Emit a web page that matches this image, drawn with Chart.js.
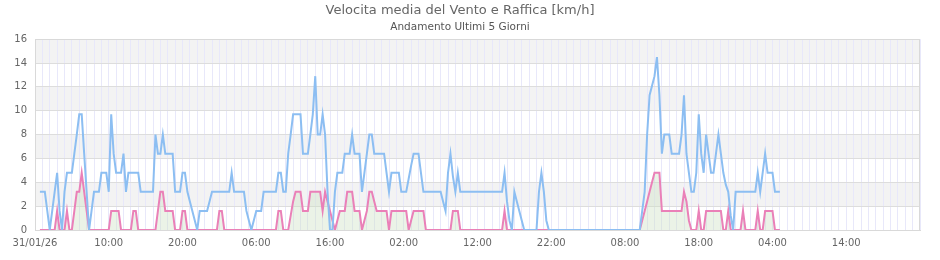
<!DOCTYPE html>
<html>
<head>
<meta charset="utf-8">
<script src="https://cdn.jsdelivr.net/npm/chart.js@4.4.1/dist/chart.umd.min.js"></script>
<style>
  html, body { margin: 0; padding: 0; background: #ffffff; }
  #wrap { width: 940px; height: 260px; }
</style>
</head>
<body>
<div id="wrap"><canvas id="c" width="940" height="260"></canvas></div>
<script>
// ---- DATA (20-minute samples starting 31/01/26 00:00) ----
const SLOTS = 361; // 0..120 h, one category every 20 minutes
const categories = [];
for (let i = 0; i < SLOTS; i++) {
  const m = i * 20, h = Math.floor(m / 60) % 24, mm = m % 60;
  categories.push(String(h).padStart(2, '0') + ':' + String(mm).padStart(2, '0'));
}

// tick labels shown every 10 hours
const tickLabels = ['31/01/26', '10:00', '20:00', '06:00', '16:00', '02:00',
                    '12:00', '22:00', '08:00', '18:00', '04:00', '14:00'];

// Raffica (gust) km/h
const raffica = [
  null, null, 3.2, 3.2, 3.2, 1.6, 0, 1.6, 3.2, 4.8,
  1.6, 0, 3.2, 4.8, 4.8, 4.8, 6.4, 8.0, 9.7, 9.7,
  6.4, 3.2, 0, 1.6, 3.2, 3.2, 3.2, 4.8, 4.8, 4.8,
  3.2, 9.7, 6.4, 4.8, 4.8, 4.8, 6.4, 3.2, 4.8, 4.8,
  4.8, 4.8, 4.8, 3.2, 3.2, 3.2, 3.2, 3.2, 3.2, 8.0,
  6.4, 6.4, 8.0, 6.4, 6.4, 6.4, 6.4, 3.2, 3.2, 3.2,
  4.8, 4.8, 3.2, 2.4, 1.6, 0.8, 0, 1.6, 1.6, 1.6,
  1.6, 2.4, 3.2, 3.2, 3.2, 3.2, 3.2, 3.2, 3.2, 3.2,
  4.8, 3.2, 3.2, 3.2, 3.2, 3.2, 1.6, 0.8, 0, 0.8,
  1.6, 1.6, 1.6, 3.2, 3.2, 3.2, 3.2, 3.2, 3.2, 4.8,
  4.8, 3.2, 3.2, 6.4, 8.0, 9.7, 9.7, 9.7, 9.7, 6.4,
  6.4, 6.4, 8.0, 9.7, 12.9, 8.0, 8.0, 9.7, 8.0, 3.2,
  0, 0, 3.2, 4.8, 4.8, 4.8, 6.4, 6.4, 6.4, 8.0,
  6.4, 6.4, 6.4, 3.2, 4.8, 6.4, 8.0, 8.0, 6.4, 6.4,
  6.4, 6.4, 6.4, 4.8, 3.2, 4.8, 4.8, 4.8, 4.8, 3.2,
  3.2, 3.2, 4.3, 5.4, 6.4, 6.4, 6.4, 4.8, 3.2, 3.2,
  3.2, 3.2, 3.2, 3.2, 3.2, 3.2, 2.4, 1.6, 4.8, 6.4,
  4.5, 3.2, 4.8, 3.2, 3.2, 3.2, 3.2, 3.2, 3.2, 3.2,
  3.2, 3.2, 3.2, 3.2, 3.2, 3.2, 3.2, 3.2, 3.2, 3.2,
  3.2, 4.8, 2.4, 0.8, 0, 3.2, 2.4, 1.6, 0.8, 0,
  0, 0, 0, 0, 0, 3.2, 4.8, 3.2, 0.8, 0,
  0, 0, 0, 0, 0, 0, 0, 0, 0, 0,
  0, 0, 0, 0, 0, 0, 0, 0, 0, 0,
  0, 0, 0, 0, 0, 0, 0, 0, 0, 0,
  0, 0, 0, 0, 0, 0, 0, 1.6, 3.2, 8.0,
  11.3, 12.1, 12.9, 14.5, 11.3, 6.4, 8.0, 8.0, 8.0, 6.4,
  6.4, 6.4, 6.4, 8.0, 11.3, 6.4, 4.8, 3.2, 3.2, 4.8,
  9.7, 6.4, 4.8, 8.0, 6.4, 4.8, 4.8, 6.4, 8.0, 6.4,
  4.8, 3.8, 3.2, 1.2, 0, 3.2, 3.2, 3.2, 3.2, 3.2,
  3.2, 3.2, 3.2, 3.2, 4.8, 3.2, 4.8, 6.4, 4.8, 4.8,
  4.8, 3.2, 3.2, 3.2
];

// Velocita media (average) km/h
const media = [
  null, null, 0, 0, 0, 0, 0, 0, 0, 1.6,
  0, 0, 0, 1.6, 0, 0, 1.6, 3.2, 3.2, 4.8,
  3.2, 1.6, 0, 0, 0, 0, 0, 0, 0, 0,
  0, 1.6, 1.6, 1.6, 1.6, 0, 0, 0, 0, 0,
  1.6, 1.6, 0, 0, 0, 0, 0, 0, 0, 0,
  1.6, 3.2, 3.2, 1.6, 1.6, 1.6, 1.6, 0, 0, 0,
  1.6, 1.6, 0, 0, 0, 0, 0, 0, 0, 0,
  0, 0, 0, 0, 0, 1.6, 1.6, 0, 0, 0,
  0, 0, 0, 0, 0, 0, 0, 0, 0, 0,
  0, 0, 0, 0, 0, 0, 0, 0, 0, 1.6,
  1.6, 0, 0, 0, 1.2, 2.4, 3.2, 3.2, 3.2, 1.6,
  1.6, 1.6, 3.2, 3.2, 3.2, 3.2, 3.2, 1.6, 3.2, 2.4,
  1.6, 0.8, 0, 0.8, 1.6, 1.6, 1.6, 3.2, 3.2, 3.2,
  1.6, 1.6, 1.6, 0, 0.8, 1.6, 3.2, 3.2, 2.4, 1.6,
  1.6, 1.6, 1.6, 1.6, 0, 1.6, 1.6, 1.6, 1.6, 1.6,
  1.6, 1.6, 0, 0.8, 1.6, 1.6, 1.6, 1.6, 1.6, 0,
  0, 0, 0, 0, 0, 0, 0, 0, 0, 0,
  1.6, 1.6, 1.6, 0, 0, 0, 0, 0, 0, 0,
  0, 0, 0, 0, 0, 0, 0, 0, 0, 0,
  0, 1.6, 0, 0, 0, 0, 0, 0, 0, 0,
  0, 0, 0, 0, 0, 0, 0, 0, 0, 0,
  0, 0, 0, 0, 0, 0, 0, 0, 0, 0,
  0, 0, 0, 0, 0, 0, 0, 0, 0, 0,
  0, 0, 0, 0, 0, 0, 0, 0, 0, 0,
  0, 0, 0, 0, 0, 0, 0, 0.8, 1.6, 2.4,
  3.2, 4.0, 4.8, 4.8, 4.8, 1.6, 1.6, 1.6, 1.6, 1.6,
  1.6, 1.6, 1.6, 1.6, 3.2, 2.4, 0.8, 0, 0, 0,
  1.6, 0, 0, 1.6, 1.6, 1.6, 1.6, 1.6, 1.6, 1.6,
  0, 0, 1.6, 0, 0, 0, 0, 0, 1.6, 0,
  0, 0, 0, 0, 1.6, 0, 0, 1.6, 1.6, 1.6,
  1.6, 0, 0, 0
];

const yTicks = [0, 2, 4, 6, 8, 10, 12, 14, 16];

// ---- plugins: alternating bands + frame ----
const bands = {
  id: 'bands',
  beforeDraw(chart) {
    const { ctx, chartArea: a, scales: { y } } = chart;
    ctx.save();
    ctx.fillStyle = '#f3f3f3';
    for (let k = 1; k < yTicks.length; k += 2) {
      const top = y.getPixelForValue(yTicks[k + 1] !== undefined ? yTicks[k + 1] : yTicks[k]);
      const bot = y.getPixelForValue(yTicks[k]);
      ctx.fillRect(a.left, top, a.right - a.left, bot - top);
    }
    ctx.restore();
  },
  beforeDatasetsDraw(chart) {
    const { ctx, chartArea: a } = chart;
    ctx.save();
    ctx.strokeStyle = '#d9d9d9';
    ctx.lineWidth = 1;
    ctx.strokeRect(Math.round(a.left) + 0.5, Math.round(a.top) + 0.5,
                   Math.round(a.right - a.left) - 1, Math.round(a.bottom - a.top));
    ctx.restore();
  }
};

new Chart(document.getElementById('c'), {
  type: 'line',
  data: {
    labels: categories,
    datasets: [
      {
        label: 'Raffica',
        data: raffica,
        borderColor: 'rgb(140,190,242)',
        borderWidth: 2,
        pointRadius: 0,
        tension: 0,
        fill: false
      },
      {
        label: 'Velocita media',
        data: media,
        borderColor: 'rgb(234,128,184)',
        backgroundColor: 'rgba(205,225,195,0.4)',
        borderWidth: 2,
        pointRadius: 0,
        tension: 0,
        fill: 'origin'
      }
    ]
  },
  options: {
    responsive: false,
    animation: false,
    devicePixelRatio: 1,
    layout: { padding: { left: 0, right: 20, top: 0, bottom: 0 } },
    plugins: {
      legend: { display: false },
      tooltip: { enabled: false },
      title: {
        display: true,
        text: 'Velocita media del Vento e Raffica [km/h]',
        color: '#666666',
        font: { family: 'DejaVu Sans', size: 13, weight: 'normal' },
        padding: { top: 3, bottom: 0 }
      },
      subtitle: {
        display: true,
        text: 'Andamento Ultimi 5 Giorni',
        color: '#555555',
        font: { family: 'DejaVu Sans', size: 10.5, weight: 'normal' },
        padding: { top: 2, bottom: 6 }
      }
    },
    scales: {
      x: {
        type: 'category',
        offset: false,
        afterFit(s) { s.height = 30; },
        grid: {
          drawTicks: false,
          color: (c) => (c.index % 3 === 0 ? '#e8e8fa' : 'rgba(0,0,0,0)'),
          lineWidth: 1
        },
        border: { display: true, color: '#d9d9d9' },
        ticks: {
          autoSkip: false,
          maxRotation: 0,
          minRotation: 0,
          padding: 7,
          color: '#666666',
          font: { family: 'DejaVu Sans', size: 10 },
          callback: (v, i) => (i % 30 === 0 && tickLabels[i / 30] !== undefined ? tickLabels[i / 30] : '')
        }
      },
      y: {
        min: 0,
        max: 16,
        afterFit(s) { s.width = 35; },
        grid: { drawTicks: false, color: '#dddddd', lineWidth: 1 },
        border: { display: true, color: '#d9d9d9' },
        ticks: {
          stepSize: 2,
          padding: 8,
          color: '#666666',
          font: { family: 'DejaVu Sans', size: 10 }
        }
      }
    }
  },
  plugins: [bands]
});
</script>
</body>
</html>
